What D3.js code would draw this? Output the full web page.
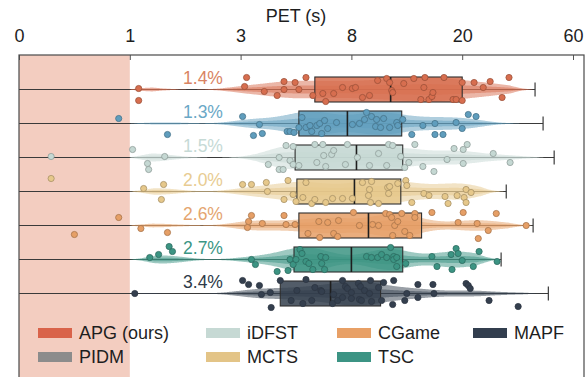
<!DOCTYPE html>
<html>
<head>
<meta charset="utf-8">
<script src="https://cdn.jsdelivr.net/npm/d3@7"></script>
<style>
  html, body { margin: 0; padding: 0; background: #fff; }
  svg { display: block; font-family: "Liberation Sans", Arial, Helvetica, sans-serif; }
</style>
</head>
<body>
<svg id="chart" width="587" height="377"></svg>
<script>
// ---- data -------------------------------------------------------------
const methods = ["APG (ours)", "PIDM", "iDFST", "MCTS", "CGame", "TSC", "MAPF"];
const boxColors    = ["#d76e4f", "#5f9dbd", "#c5d8d3", "#e6c88b", "#e69f66", "#3c9483", "#343f4e"];
const legendColors = ["#d9634a", "#8c8c8c", "#c6d9d4", "#e3c487", "#e8a066", "#3c9484", "#323e4e"];
const labelColors  = ["#d98463", "#6aa8c6", "#c6dad6", "#e8cc92", "#e4a56f", "#3a9684", "#2e3a48"];
const failRates    = ["1.4%", "1.3%", "1.5%", "2.0%", "2.6%", "2.7%", "3.4%"];

// box statistics (seconds)
const q1         = [6.35, 5.63, 5.46, 5.54, 5.63, 5.41, 4.79];
const median     = [12.25, 7.82, 8.55, 8.33, 9.85, 8.0, 7.06];
const q3         = [20.0, 13.45, 13.56, 13.35, 15.6, 13.56, 11.16];
const whiskerMin = [0, 0, 0, 0, 0, 0, 0];
const whiskerMax = [46.3, 49.2, 53.2, 35.9, 45.6, 34.05, 51.1];

const tickValues = [0, 1, 3, 8, 20, 60];

// individual runs: [PET seconds, vertical spread within the row (-1..1 of box half-height)]
const ptsAPG = [[1.16,-0.08],[1.16,0.88],[3.27,-0.96],[3.18,-0.24],[4.07,0.16],[4.65,0.48],[4.96,-0.64],[4.96,0],[5.46,-0.56],[5.63,0],[5.95,-0.96],[6.26,0.48],[6.71,0.32],[6.84,0.96],[7.2,0.32],[7.6,-0.16],[8.11,-0.08],[8.44,-0.16],[9.2,0.64],[9.96,0.48],[10.84,-0.72],[11.82,-0.88],[12.14,-0.56],[12.36,0.08],[12.47,0.24],[13.67,-0.48],[14.76,-0.88],[15.85,-0.16],[15.96,-0.96],[15.52,0.8],[16.4,0.8],[16.72,0.56],[16.83,0.24],[18.03,-0.96],[19.01,0.8],[19.34,0.8],[20,-0.56],[20,0.88],[24.3,-0.56],[27.6,-0.16],[30.1,-0.64],[34.4,0.64],[36.9,-0.96]];
const ptsPIDM = [[0.9,-0.4],[1.68,0.88],[3.09,-0.56],[3.58,0.96],[3.85,0.08],[3.98,0.8],[5.1,0.64],[5.23,0.64],[5.41,0.72],[5.63,0.32],[5.77,-0.48],[5.95,0.32],[6.13,0.16],[6.21,0.64],[6.44,0.16],[6.57,0],[6.66,0.8],[6.79,-0.24],[6.93,0.4],[7.33,-0.08],[8.11,0.08],[8.87,0],[9.42,-0.32],[9.64,-0.88],[10.18,-0.56],[10.62,0.24],[10.73,-0.32],[11.16,0.32],[11.49,-0.4],[12.14,0.32],[12.91,-0.08],[13.02,0.16],[13.56,-0.32],[14.54,0.88],[15.74,0.16],[17.05,0],[17.05,0.88],[17.92,0.88],[19.34,-0.08],[20,0.4],[22.2,-0.72],[25,-0.56]];
const ptsIDFST = [[0.29,-0.08],[1.05,-0.64],[1.32,0.48],[1.34,0.96],[1.63,-0.08],[4.25,0.56],[4.74,0],[4.74,0.96],[4.92,0.96],[5.05,-0.96],[5.23,0.24],[5.37,-0.88],[5.37,0.56],[5.63,0.64],[6.35,-1.04],[6.44,0.4],[6.71,-1.04],[6.75,-0.16],[6.84,0.72],[7.11,-0.24],[7.2,-0.56],[7.73,0.56],[7.82,-1.04],[8.65,0],[9.96,0.64],[10.94,-0.32],[11.82,0.64],[12.03,-1.04],[12.47,-0.96],[13.34,-0.08],[13.78,0.8],[14.22,0.4],[14.87,-1.04],[15.74,0.72],[16.94,1.12],[18.36,0.16],[19.12,-0.72],[20.36,-0.64],[21.8,-1.04],[20.36,0.48],[31.2,-0.32],[37.3,0.4]];
const ptsMCTS = [[0.29,-1.04],[1.25,-0.24],[1.57,0.64],[1.61,-0.56],[3.09,-0.56],[3.49,-0.56],[4.16,-0.72],[4.21,0],[4.96,0.64],[5.14,-0.88],[5.37,0.24],[5.5,0.8],[5.81,0.48],[5.95,-0.72],[6.21,0.96],[6.35,0.64],[6.84,0.88],[7.15,0.56],[7.6,0.56],[8.11,0.56],[9.2,-0.72],[9.96,-0.16],[10.18,-0.8],[9.85,0.32],[10.07,0.88],[10.94,0.96],[11.93,-0.32],[12.14,-0.4],[12.03,0.16],[13.02,-0.64],[13.89,-0.88],[14.0,-0.48],[14.54,0.88],[15.85,0.16],[16.4,0.32],[18.14,0.4],[18.47,0.96],[19.45,0.32],[20.7,0.48],[21.4,-0.16],[21.4,0.88],[23.2,0.08]];
const ptsCGame = [[0.5,0.72],[0.9,-0.64],[1.2,0.24],[1.68,0.56],[3.31,0.16],[3.36,-0.32],[3.49,-0.8],[3.98,-0.16],[4.96,-0.8],[5.05,-0.08],[5.46,-0.08],[6.04,0.64],[6.53,-0.32],[6.57,0.96],[6.93,-0.24],[7.2,0.64],[7.38,0.88],[7.42,-0.4],[8.22,-1.04],[8.87,0],[10.29,-0.08],[10.94,0],[11.71,-0.96],[12.14,-0.88],[12.36,-0.64],[12.69,0],[13.02,-0.32],[13.45,-0.96],[13.78,0.48],[12.47,0.8],[14.32,0.8],[14.87,-0.96],[14.87,-0.64],[16.72,-1.04],[19.56,-0.24],[20.36,-1.04],[25.4,-0.16],[29.4,0.4],[25.8,1.04],[32.3,-0.96],[43.1,0]];
const ptsTSC = [[1.36,-0.16],[1.52,-0.4],[1.71,-1.04],[1.77,-0.64],[3.49,0],[3.67,0.4],[4.65,0.96],[5.14,0.88],[5.23,0],[5.37,0.4],[5.5,0],[5.68,-0.8],[5.77,-0.48],[5.95,0.16],[6.08,0.32],[6.26,0.8],[6.62,-0.24],[6.66,0.32],[6.79,0.8],[6.84,-0.16],[9.64,-0.24],[10.18,-0.16],[10.84,-0.16],[11.27,-0.4],[11.82,-0.16],[12.25,-0.96],[12.58,-0.24],[12.58,0],[12.91,-0.16],[12.91,0.56],[13.89,0.32],[16.72,-0.24],[17.27,0.56],[18.8,-0.4],[18.9,0.8],[19.34,-0.88],[19.56,-0.48],[20,0.08],[24,0.56],[26.1,-0.64],[32.6,0.16]];
const ptsMAPF = [[1.09,0],[3.09,-1.04],[3.36,-0.72],[3.85,-0.64],[3.94,0.08],[4.34,-0.08],[4.38,1.12],[4.79,-1.04],[5.28,0.56],[5.54,-0.24],[5.81,0.8],[5.95,-1.12],[6.21,0.56],[6.35,-0.48],[6.62,-0.24],[6.66,-0.16],[7.15,0.8],[7.2,0.08],[7.38,0.56],[7.6,-1.04],[7.6,0.32],[7.73,-0.56],[7.82,-0.4],[8.0,-0.08],[8.0,0.4],[8.76,-0.8],[8.87,0.48],[8.98,-0.56],[9.09,0.56],[9.42,-0.24],[9.96,0],[10.07,-1.04],[10.18,0.64],[10.94,-0.48],[11.27,0.56],[11.49,-0.88],[12.47,0.88],[12.58,-1.04],[13.78,0.56],[14.0,0],[15.2,-0.72],[15.2,0.32],[16.83,-0.72],[16.94,0],[21.4,-0.8],[22.2,-0.64],[22.9,-0.4],[29.7,0.56],[40.2,1.04]];
const points = [ptsAPG, ptsPIDM, ptsIDFST, ptsMCTS, ptsCGame, ptsTSC, ptsMAPF];

// ---- layout -----------------------------------------------------------
const frame = { left: 19, top: 55, right: 584, bottom: 382 };
const axisRight = 573;
const boxHalf = 12.5;
const violinHalf = 12;

const svg = d3.select("#chart");

// PET axis: equal spacing between the labelled ticks
const x = d3.scaleLinear()
  .domain(tickValues)
  .range(tickValues.map((d, i) => frame.left + i * (axisRight - frame.left) / (tickValues.length - 1)));

const y = d3.scaleBand().domain(methods).range([72.5, 310.5]);
const cy = m => y(m) + y.bandwidth() / 2;

// sub-second region
svg.append("rect")
  .attr("x", x(0)).attr("y", frame.top)
  .attr("width", x(1) - x(0)).attr("height", frame.bottom - frame.top)
  .attr("fill", "#f3cdc0");

// axis on top with inward ticks
const axisG = svg.append("g")
  .attr("transform", `translate(0,${frame.top})`)
  .call(d3.axisTop(x).tickValues(tickValues).tickFormat(d3.format("d"))
    .tickSizeInner(-5).tickSizeOuter(0).tickPadding(13));
axisG.select(".domain").remove();
axisG.attr("font-family", null).attr("font-size", 18);
axisG.selectAll(".tick text").attr("fill", "#1e1e1e");
axisG.selectAll(".tick line").attr("stroke", "#555");

svg.append("text")
  .attr("x", 296).attr("y", 22)
  .attr("text-anchor", "middle")
  .attr("font-size", 18).attr("fill", "#1e1e1e")
  .text("PET (s)");

// kernel density in screen space, used for the violin outline
function density(pxs, from, to, bw) {
  const out = [];
  for (let g = from; g <= to; g += 1) {
    let s = 0;
    for (const p of pxs) { const u = (g - p) / bw; s += Math.exp(-0.5 * u * u); }
    out.push([g, s]);
  }
  return out;
}

const rows = svg.append("g");
methods.forEach((m, i) => {
  const c = cy(m);
  const g = rows.append("g");
  const col = boxColors[i];

  // whisker line and cap
  g.append("line")
    .attr("x1", x(whiskerMin[i])).attr("x2", x(whiskerMax[i]))
    .attr("y1", c).attr("y2", c)
    .attr("stroke", "#3a3a3a").attr("stroke-width", 1);
  g.append("line")
    .attr("x1", x(whiskerMax[i])).attr("x2", x(whiskerMax[i]))
    .attr("y1", c - 7).attr("y2", c + 7)
    .attr("stroke", "#3a3a3a").attr("stroke-width", 1.2);

  // violin (two layers: outer and inner core), tapering to the whisker cap
  const pxs = points[i].map(p => x(p[0]));
  const x0 = x(1), x1 = x(whiskerMax[i]);
  const dens = density(pxs, x0, x1, 19);
  const maxD = d3.max(dens, d => d[1]);
  const taper = gx => Math.min(1, (x1 - gx) / 25, (gx - x0 + 2) / 25);
  [1, 0.45].forEach(scale => {
    const area = d3.area()
      .x(d => d[0])
      .y0(d => c - scale * violinHalf * taper(d[0]) * d[1] / maxD)
      .y1(d => c + scale * violinHalf * taper(d[0]) * d[1] / maxD)
      .curve(d3.curveBasis);
    g.append("path").attr("d", area(dens))
      .attr("fill", col).attr("fill-opacity", 0.5);
  });

  // box and median
  g.append("rect")
    .attr("x", x(q1[i])).attr("y", c - boxHalf)
    .attr("width", x(q3[i]) - x(q1[i])).attr("height", 2 * boxHalf)
    .attr("fill", col).attr("fill-opacity", 0.85)
    .attr("stroke", "#2e2e2e").attr("stroke-width", 1.1);
  g.append("line")
    .attr("x1", x(median[i])).attr("x2", x(median[i]))
    .attr("y1", c - boxHalf).attr("y2", c + boxHalf)
    .attr("stroke", "#1e1e1e").attr("stroke-width", 1.6);

  // runs
  g.selectAll("circle").data(points[i]).join("circle")
    .attr("cx", d => x(d[0]))
    .attr("cy", d => c + d[1] * boxHalf)
    .attr("r", 3.1)
    .attr("fill", col)
    .attr("stroke", d3.color(col).darker(i === 6 ? 0.5 : 0.9))
    .attr("stroke-width", 0.8);

  // failure-rate label
  g.append("text")
    .attr("x", 203).attr("y", c - 6)
    .attr("text-anchor", "middle")
    .attr("font-size", 17.5)
    .attr("fill", labelColors[i])
    .text(failRates[i]);
});

// frame
svg.append("rect")
  .attr("x", frame.left).attr("y", frame.top)
  .attr("width", frame.right - frame.left).attr("height", frame.bottom - frame.top)
  .attr("fill", "none").attr("stroke", "#4a4a4a").attr("stroke-width", 1.2);

// legend, filled column by column (two rows)
const legendCols = [38, 206, 337, 473];
const legendRows = [333, 357];
const legend = svg.append("g");
methods.forEach((m, i) => {
  const lx = legendCols[Math.floor(i / 2)];
  const ly = legendRows[i % 2];
  legend.append("rect")
    .attr("x", lx).attr("y", ly - 5)
    .attr("width", 34).attr("height", 10)
    .attr("fill", legendColors[i]);
  legend.append("text")
    .attr("x", lx + 41).attr("y", ly + 6)
    .attr("font-size", 18).attr("fill", "#1e1e1e")
    .text(m);
});
</script>
</body>
</html>
